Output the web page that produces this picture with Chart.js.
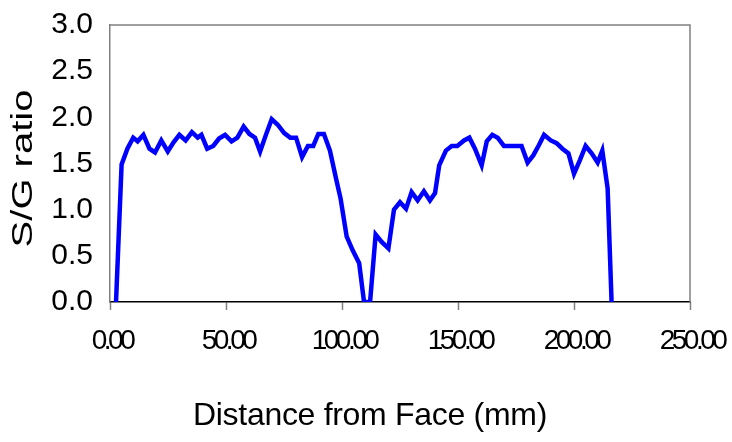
<!DOCTYPE html>
<html>
<head>
<meta charset="utf-8">
<script src="https://cdn.jsdelivr.net/npm/chart.js@4"></script>
<style>
  html, body { margin: 0; padding: 0; background: #ffffff; }
  #wrap { width: 732px; height: 442px; }
</style>
</head>
<body>
<div id="wrap"><canvas id="c" width="732" height="442"></canvas></div>
<script>
// Distance from face (mm)
const distanceMm = [2.6, 5.0, 7.5, 10.0, 11.9, 14.4, 17.0, 19.4, 22.1, 24.9, 27.4, 29.9, 32.6, 35.3, 37.8, 39.4, 41.9, 44.5, 47.0, 49.6, 52.4, 54.9, 57.6, 60.1, 62.5, 64.7, 67.2, 69.7, 72.3, 75.1, 77.7, 80.2, 82.8, 85.3, 87.6, 89.8, 92.2, 94.8, 97.4, 99.4, 102.0, 104.6, 107.4, 109.5, 112.1, 114.5, 117.1, 120.0, 122.4, 125.0, 127.6, 130.0, 132.6, 135.3, 137.9, 140.1, 141.9, 144.8, 147.3, 149.7, 152.6, 154.9, 157.3, 160.2, 162.4, 164.8, 167.1, 169.8, 172.4, 175.0, 177.4, 180.0, 182.5, 184.9, 187.1, 190.0, 192.5, 195.0, 197.6, 200.0, 202.6, 205.0, 207.6, 210.2, 212.2, 214.5, 216.2];
// S/G ratio
const sgRatio = [0.0, 1.49, 1.66, 1.78, 1.74, 1.81, 1.66, 1.62, 1.75, 1.63, 1.73, 1.81, 1.75, 1.84, 1.78, 1.81, 1.66, 1.69, 1.77, 1.81, 1.74, 1.78, 1.90, 1.82, 1.78, 1.63, 1.81, 1.98, 1.92, 1.83, 1.78, 1.78, 1.57, 1.69, 1.69, 1.82, 1.82, 1.64, 1.34, 1.12, 0.71, 0.56, 0.42, 0.0, 0.0, 0.73, 0.65, 0.58, 1.00, 1.08, 1.01, 1.19, 1.10, 1.20, 1.10, 1.18, 1.48, 1.64, 1.69, 1.69, 1.75, 1.78, 1.66, 1.48, 1.74, 1.81, 1.78, 1.69, 1.69, 1.69, 1.69, 1.51, 1.59, 1.70, 1.81, 1.75, 1.72, 1.66, 1.61, 1.39, 1.54, 1.69, 1.61, 1.51, 1.64, 1.23, 0.0];

const xAxisTitle = 'Distance from Face (mm)';
const yAxisTitle = 'S/G ratio';
const xTickMin = 0, xTickMax = 250, xTickStep = 50;
const yTickMin = 0, yTickMax = 3, yTickStep = 0.5;

const points = distanceMm.map((d, i) => ({ x: d, y: sgRatio[i] }));
const FONT = '"Liberation Sans", Arial, sans-serif';

const stylePlugin = {
  id: 'stylePlugin',
  beforeDraw(chart) {
    const xs = chart.scales.x, ys = chart.scales.y;
    if (!ys.__wrapped) {
      ys.__wrapped = true;
      const odt = ys.drawTitle;
      ys.drawTitle = function () {
        const c = this.ctx;
        const cx = this.left + 24;
        c.save();
        c.translate(cx, 5);
        c.scale(0.72, 1);
        c.translate(-cx, 0);
        odt.apply(this, arguments);
        c.restore();
      };
    }
    if (!xs.__wrapped) {
      xs.__wrapped = true;
      const odl = xs.drawLabels;
      xs.drawLabels = function () {
        const c = this.ctx;
        c.save();
        c.letterSpacing = '-3.5px';
        c.translate(2, 0);
        odl.apply(this, arguments);
        c.restore();
      };
      const odt = xs.drawTitle;
      xs.drawTitle = function () {
        const c = this.ctx;
        c.save();
        c.letterSpacing = '-0.3px';
        c.translate(-30, 0);
        odt.apply(this, arguments);
        c.restore();
      };
    }
  },
  afterDatasetsDraw(chart) {
    const { ctx, chartArea: a } = chart;
    ctx.save();
    ctx.strokeStyle = '#808080';
    ctx.lineWidth = 1.5;
    ctx.beginPath();
    ctx.moveTo(a.left, a.top);
    ctx.lineTo(a.right, a.top);
    ctx.lineTo(a.right, a.bottom);
    ctx.stroke();
    ctx.restore();
  }
};

new Chart(document.getElementById('c'), {
  type: 'line',
  data: {
    datasets: [{
      data: points,
      borderColor: '#0000FF',
      backgroundColor: '#0000FF',
      borderWidth: 4.5,
      pointRadius: 0,
      tension: 0,
      fill: false
    }]
  },
  options: {
    responsive: false,
    animation: false,
    layout: { padding: { top: 25, right: 42, left: 0, bottom: 0 } },
    plugins: { legend: { display: false }, tooltip: { enabled: false } },
    scales: {
      x: {
        type: 'linear',
        min: xTickMin, max: xTickMax,
        ticks: {
          stepSize: xTickStep,
          color: '#000000',
          font: { family: FONT, size: 28 },
          padding: 14,
          maxRotation: 0,
          autoSkip: false,
          callback: v => Number(v).toFixed(2)
        },
        grid: { drawOnChartArea: false, drawTicks: true, tickLength: 8, tickColor: '#808080', tickWidth: 1.5 },
        border: { color: '#000000', width: 1.5 },
        title: {
          display: true, text: xAxisTitle, color: '#000000',
          font: { family: FONT, size: 32 },
          padding: { top: 0, bottom: 7 }
        },
        afterFit(s) { s.height = 140; s.paddingLeft = 0; s.paddingRight = 0; s.paddingTop = 0; s.paddingBottom = 0; }
      },
      y: {
        type: 'linear',
        min: yTickMin, max: yTickMax,
        ticks: {
          stepSize: yTickStep,
          color: '#000000',
          font: { family: FONT, size: 30 },
          padding: 17,
          callback: v => Number(v).toFixed(1)
        },
        grid: { drawOnChartArea: false, drawTicks: false },
        border: { color: '#808080', width: 1.5 },
        title: {
          display: true, text: yAxisTitle, color: '#000000',
          font: { family: FONT, size: 40 },
          padding: { top: 0, bottom: 0 }
        },
        afterFit(s) { s.width = 110; s.paddingLeft = 0; s.paddingRight = 0; s.paddingTop = 0; s.paddingBottom = 0; }
      }
    }
  },
  plugins: [stylePlugin]
});
</script>
</body>
</html>
